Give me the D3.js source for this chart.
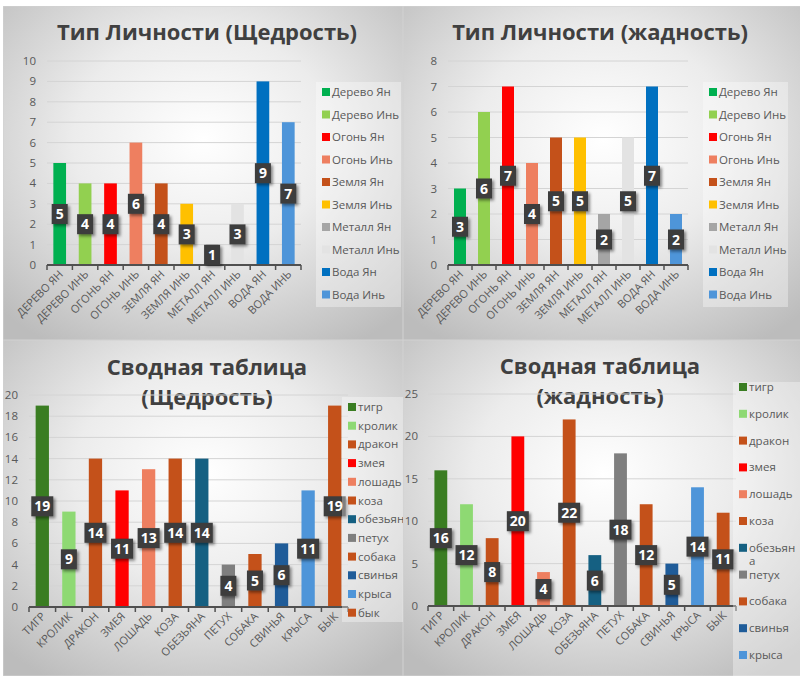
<!DOCTYPE html>
<html>
<head>
<meta charset="utf-8">
<script src="https://cdn.jsdelivr.net/npm/d3@7"></script>
<style>
  body { margin: 0; background: #ffffff; }
  text { font-family: "Open Sans", "Noto Sans", sans-serif; }
</style>
</head>
<body>
<script>
"use strict";

// element categories (top charts)
var elements = ["Дерево Ян", "Дерево Инь", "Огонь Ян", "Огонь Инь", "Земля Ян",
  "Земля Инь", "Металл Ян", "Металл Инь", "Вода Ян", "Вода Инь"];
var elementColors = ["#00b050", "#92d050", "#ff0000", "#ee7f60", "#c4511a",
  "#ffc000", "#a5a5a5", "#e3e3e3", "#0070c0", "#4e95d9"];
var generosityByElement = [5, 4, 4, 6, 4, 3, 1, 3, 9, 7];
var greedByElement = [3, 6, 7, 4, 5, 5, 2, 5, 7, 2];

// animal categories (bottom charts)
var animals = ["тигр", "кролик", "дракон", "змея", "лошадь", "коза",
  "обезьяна", "петух", "собака", "свинья", "крыса", "бык"];
var animalColors = ["#3a7d22", "#8ed973", "#c4511a", "#ff0000", "#ee7f60", "#c4511a",
  "#156082", "#7f7f7f", "#c4511a", "#1f5c99", "#4e95d9", "#c4511a"];
var generosityByAnimal = [19, 9, 14, 11, 13, 14, 14, 4, 5, 6, 11, 19];
var greedByAnimal = [16, 12, 8, 20, 4, 22, 6, 18, 12, 5, 14, 11];

// y tick values
var ticksElemGen = [0, 1, 2, 3, 4, 5, 6, 7, 8, 9, 10];
var ticksElemGreed = [0, 1, 2, 3, 4, 5, 6, 7, 8];
var ticksAnimalGen = [0, 2, 4, 6, 8, 10, 12, 14, 16, 18, 20];
var ticksAnimalGreed = [0, 5, 10, 15, 20, 25];

var svg = d3.select("body").append("svg")
  .attr("width", 800)
  .attr("height", 678);

var defs = svg.append("defs");

var grad = defs.append("radialGradient")
  .attr("id", "bg")
  .attr("cx", "50%").attr("cy", "40%").attr("r", "72%");
grad.append("stop").attr("offset", "0%").attr("stop-color", "#ffffff");
grad.append("stop").attr("offset", "45%").attr("stop-color", "#ececec");
grad.append("stop").attr("offset", "100%").attr("stop-color", "#bcbcbc");

var shadow = defs.append("filter")
  .attr("id", "shadow")
  .attr("x", "-50%").attr("y", "-50%").attr("width", "200%").attr("height", "200%");
shadow.append("feDropShadow")
  .attr("dx", 2).attr("dy", 2).attr("stdDeviation", 1.5)
  .attr("flood-color", "#000").attr("flood-opacity", 0.45);

function drawPanel(p) {
  defs.append("clipPath").attr("id", "clip" + p.id)
    .append("rect").attr("width", p.w).attr("height", p.h);

  var g = svg.append("g")
    .attr("transform", "translate(" + p.x + "," + p.y + ")")
    .attr("clip-path", "url(#clip" + p.id + ")");

  g.append("rect")
    .attr("width", p.w)
    .attr("height", p.h)
    .attr("fill", "url(#bg)")
    .attr("stroke", "#d2d2d2");

  // title
  p.title.forEach(function (line, i) {
    g.append("text")
      .attr("x", p.titleX)
      .attr("y", p.titleY + i * 30)
      .attr("text-anchor", "middle")
      .attr("font-size", "22px")
      .attr("font-weight", "bold")
      .attr("fill", "#404040")
      .text(line);
  });

  var xScale = d3.scaleBand()
    .domain(d3.range(p.labels.length))
    .range([p.left, p.right]);

  var yScale = d3.scaleLinear()
    .domain([0, d3.max(p.ticks)])
    .range([p.bottom, p.top]);

  // gridlines
  g.selectAll("line.grid")
    .data(p.ticks.slice(1))
    .enter()
    .append("line")
    .attr("class", "grid")
    .attr("x1", p.left)
    .attr("x2", p.right)
    .attr("y1", function (d) { return yScale(d); })
    .attr("y2", function (d) { return yScale(d); })
    .attr("stroke", "#d4d4d4")
    .attr("stroke-width", 1);

  // y tick labels
  g.selectAll("text.ytick")
    .data(p.ticks)
    .enter()
    .append("text")
    .attr("class", "ytick")
    .attr("x", p.yLabelX)
    .attr("y", function (d) { return yScale(d); })
    .attr("dy", "0.35em")
    .attr("text-anchor", "end")
    .attr("font-size", "11.5px")
    .attr("fill", "#595959")
    .text(function (d) { return d; });

  // bars
  var barW = xScale.bandwidth() * 0.5;
  g.selectAll("rect.bar")
    .data(p.values)
    .enter()
    .append("rect")
    .attr("class", "bar")
    .attr("x", function (d, i) { return xScale(i) + (xScale.bandwidth() - barW) / 2; })
    .attr("y", function (d) { return yScale(d); })
    .attr("width", barW)
    .attr("height", function (d) { return p.bottom - yScale(d); })
    .attr("fill", function (d, i) { return p.colors[i]; });

  // x axis line and ticks
  g.append("line")
    .attr("x1", p.left).attr("x2", p.right)
    .attr("y1", p.bottom).attr("y2", p.bottom)
    .attr("stroke", "#505050").attr("stroke-width", 2);

  g.selectAll("line.xtick")
    .data(d3.range(p.labels.length + 1))
    .enter()
    .append("line")
    .attr("class", "xtick")
    .attr("x1", function (d) { return p.left + d * xScale.step(); })
    .attr("x2", function (d) { return p.left + d * xScale.step(); })
    .attr("y1", p.bottom)
    .attr("y2", p.bottom + 5)
    .attr("stroke", "#505050").attr("stroke-width", 1.5);

  // x labels, rotated
  g.selectAll("text.xlab")
    .data(p.labels)
    .enter()
    .append("text")
    .attr("class", "xlab")
    .attr("transform", function (d, i) {
      var cx = xScale(i) + xScale.bandwidth() / 2 + 4;
      return "translate(" + cx + "," + (p.bottom + 10) + ") rotate(-45)";
    })
    .attr("text-anchor", "end")
    .attr("font-size", "11px")
    .attr("fill", "#595959")
    .text(function (d) { return d.toUpperCase(); });

  // data labels
  var dl = g.selectAll("g.dlabel")
    .data(p.values)
    .enter()
    .append("g")
    .attr("class", "dlabel")
    .attr("transform", function (d, i) {
      var cx = xScale(i) + xScale.bandwidth() / 2;
      return "translate(" + cx + "," + yScale(d / 2) + ")";
    });

  dl.append("rect")
    .attr("x", function (d) { return String(d).length > 1 ? -11 : -8; })
    .attr("y", -10)
    .attr("width", function (d) { return String(d).length > 1 ? 22 : 16; })
    .attr("height", 20)
    .attr("fill", "#3c3c3c")
    .attr("filter", "url(#shadow)");

  dl.append("text")
    .attr("text-anchor", "middle")
    .attr("dy", "0.36em")
    .attr("font-size", "14px")
    .attr("font-weight", "bold")
    .attr("fill", "#ffffff")
    .text(function (d) { return d; });

  // legend
  g.append("rect")
    .attr("x", p.legX)
    .attr("y", p.legY)
    .attr("width", p.legW)
    .attr("height", p.legH)
    .attr("fill", "#ffffff")
    .attr("fill-opacity", 0.35);

  var items = g.selectAll("g.leg")
    .data(p.labels)
    .enter()
    .append("g")
    .attr("class", "leg")
    .attr("transform", function (d, i) {
      return "translate(" + (p.legX + 6) + "," + (p.legFirst + i * p.legStep) + ")";
    });

  items.append("rect")
    .attr("x", 0)
    .attr("y", -4)
    .attr("width", 8)
    .attr("height", 8)
    .attr("fill", function (d, i) { return p.colors[i]; });

  items.append("text")
    .attr("x", 10)
    .attr("dy", "0.35em")
    .attr("font-size", "11.5px")
    .attr("fill", "#595959")
    .each(function (d) {
      var t = d3.select(this);
      t.text(d);
      if (p.legWrap && this.getComputedTextLength() > p.legWrap) {
        // break the word where it stops fitting
        var cut = d.length;
        while (cut > 1) {
          t.text(d.slice(0, cut));
          if (this.getComputedTextLength() <= p.legWrap) break;
          cut--;
        }
        t.text(null);
        t.append("tspan").attr("x", 10).text(d.slice(0, cut));
        t.append("tspan").attr("x", 10).attr("dy", "1.15em").text(d.slice(cut));
      }
    });
}

drawPanel({
  id: 1, x: 3, y: 6, w: 400, h: 334,
  title: ["Тип Личности (Щедрость)"], titleX: 204, titleY: 34,
  labels: elements, colors: elementColors, values: generosityByElement,
  ticks: ticksElemGen, left: 44, right: 298, top: 55, bottom: 259, yLabelX: 33,
  legX: 313, legY: 76, legW: 85, legH: 225, legFirst: 86, legStep: 22.5
});

drawPanel({
  id: 2, x: 403, y: 6, w: 400, h: 334,
  title: ["Тип Личности (жадность)"], titleX: 197, titleY: 34,
  labels: elements, colors: elementColors, values: greedByElement,
  ticks: ticksElemGreed, left: 45, right: 285, top: 55, bottom: 259, yLabelX: 34,
  legX: 300, legY: 76, legW: 85, legH: 225, legFirst: 86, legStep: 22.5
});

drawPanel({
  id: 3, x: 3, y: 340, w: 400, h: 336,
  title: ["Сводная таблица", "(Щедрость)"], titleX: 204, titleY: 35,
  labels: animals, colors: animalColors, values: generosityByAnimal,
  ticks: ticksAnimalGen, left: 26, right: 345, top: 55, bottom: 267, yLabelX: 15,
  legX: 339, legY: 57, legW: 70, legH: 225, legFirst: 67, legStep: 18.7
});

drawPanel({
  id: 4, x: 403, y: 340, w: 400, h: 336,
  title: ["Сводная таблица", "(жадность)"], titleX: 197, titleY: 34,
  labels: animals, colors: animalColors, values: greedByAnimal,
  ticks: ticksAnimalGreed, left: 25, right: 333, top: 54, bottom: 266, yLabelX: 15,
  legX: 330, legY: 42, legW: 70, legH: 300, legFirst: 47, legStep: 26.8, legWrap: 50
});
</script>
</body>
</html>
